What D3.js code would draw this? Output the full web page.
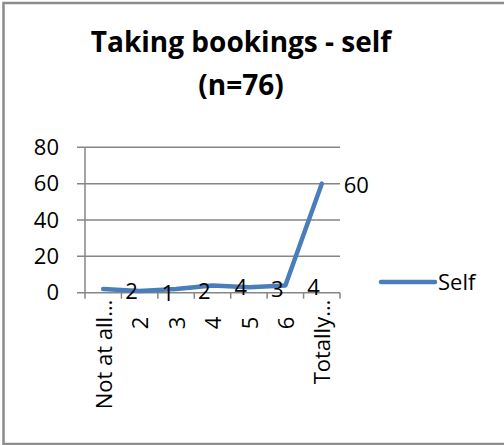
<!DOCTYPE html>
<html>
<head>
<meta charset="utf-8">
<script src="https://cdn.jsdelivr.net/npm/d3@7"></script>
<style>
  body { margin: 0; background: #fff; }
  text { font-family: "Open Sans", Lato, sans-serif; fill: #000; }
</style>
</head>
<body>
<svg id="chart" width="504" height="445"></svg>
<script>
// chart data
var categories = ["Not at all…", "2", "3", "4", "5", "6", "Totally…"];
var selfValues = [2, 1, 2, 4, 3, 4, 60];
var yTicks = [0, 20, 40, 60, 80];
var seriesName = "Self";

var blue = "#4a7ebb";
var grid = "#868686";
var fs = "22px";

var svg = d3.select("#chart");

// outer frame
svg.append("rect")
  .attr("x", 3.5).attr("y", 3)
  .attr("width", 502).attr("height", 441)
  .attr("fill", "none")
  .attr("stroke", "#8c8c8c")
  .attr("stroke-width", 2.5);

// title
svg.append("text")
  .attr("x", 241).attr("y", 52)
  .attr("text-anchor", "middle")
  .style("font-size", "28px").style("font-weight", "bold")
  .text("Taking bookings - self");
svg.append("text")
  .attr("x", 241).attr("y", 95)
  .attr("text-anchor", "middle")
  .style("font-size", "28px").style("font-weight", "bold")
  .text("(n=76)");

var plotL = 85, plotR = 340, plotT = 147.3, plotB = 292.7;

var x = d3.scaleBand().domain(categories).range([plotL, plotR]);
var y = d3.scaleLinear().domain([0, 80]).range([plotB, plotT]);

// horizontal gridlines (with left tick)
svg.append("g")
  .selectAll("line")
  .data(yTicks)
  .enter()
  .append("line")
  .attr("x1", plotL - 8).attr("x2", plotR)
  .attr("y1", (d) => y(d)).attr("y2", (d) => y(d))
  .attr("stroke", grid).attr("stroke-width", 1.5);

// y axis
svg.append("line")
  .attr("x1", plotL).attr("x2", plotL)
  .attr("y1", plotT).attr("y2", plotB)
  .attr("stroke", grid).attr("stroke-width", 1.5);

svg.append("g")
  .selectAll("text")
  .data(yTicks)
  .enter()
  .append("text")
  .attr("x", 59)
  .attr("y", (d) => y(d))
  .attr("dy", "0.35em")
  .attr("text-anchor", "end")
  .style("font-size", fs)
  .text((d) => d);

// x axis tick marks at category boundaries
var bounds = categories.map((c) => x(c)).concat([plotR]);
svg.append("g")
  .selectAll("line")
  .data(bounds)
  .enter()
  .append("line")
  .attr("x1", (d) => d).attr("x2", (d) => d)
  .attr("y1", plotB).attr("y2", plotB + 6)
  .attr("stroke", grid).attr("stroke-width", 1.5);

// rotated category labels (short ones sit lower, like the original)
svg.append("g")
  .selectAll("text")
  .data(categories)
  .enter()
  .append("text")
  .attr("transform", (d) => "translate(" + (x(d) + x.bandwidth() / 2 + 1) + "," + (plotB + (d.length > 1 ? 7 : 24)) + ") rotate(-90)")
  .attr("dy", "0.35em")
  .attr("text-anchor", "end")
  .style("font-size", fs)
  .text((d) => d);

// series line
var pts = categories.map((c, i) => ({ c: c, v: selfValues[i] }));
var line = d3.line()
  .x((d) => x(d.c) + x.bandwidth() / 2)
  .y((d) => y(d.v));

svg.append("path")
  .datum(pts)
  .attr("d", line)
  .attr("fill", "none")
  .attr("stroke", blue)
  .attr("stroke-width", 4.5)
  .attr("stroke-linejoin", "round")
  .attr("stroke-linecap", "round");

// data labels to the right of each point
svg.append("g")
  .selectAll("text")
  .data(pts)
  .enter()
  .append("text")
  .attr("x", (d) => x(d.c) + x.bandwidth() / 2 + 22)
  .attr("y", (d) => y(d.v) + 2)
  .attr("dy", "0.35em")
  .style("font-size", fs)
  .text((d) => d.v);

// legend
svg.append("line")
  .attr("x1", 381).attr("x2", 435)
  .attr("y1", 282).attr("y2", 282)
  .attr("stroke", blue).attr("stroke-width", 4.5)
  .attr("stroke-linecap", "round");
svg.append("text")
  .attr("x", 438).attr("y", 282)
  .attr("dy", "0.35em")
  .style("font-size", fs)
  .text(seriesName);
</script>
</body>
</html>
